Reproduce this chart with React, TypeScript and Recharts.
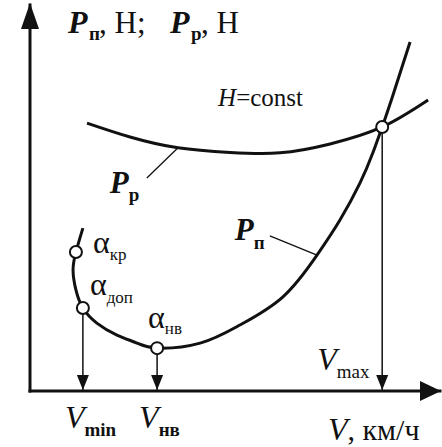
import React from 'react';
import {
  ComposedChart,
  Line,
  XAxis,
  YAxis,
  ReferenceDot,
  ReferenceLine,
  Label,
} from 'recharts';

// Required thrust P_п(V): the left branch turns back at high angles of attack
const requiredV = [12.9, 11.2, 10.5, 11.2, 12.9, 16.3, 21.2, 26.1, 31.0, 41.5, 51.2, 61.7, 70.0, 75.6, 80.5, 83.7, 85.9, 88.3, 92.7];
const requiredP = [42.2, 36.0, 31.3, 26.2, 21.5, 17.6, 14.5, 12.4, 11.1, 12.4, 17.1, 24.4, 35.2, 44.3, 53.9, 61.9, 68.4, 75.9, 90.4];

// Available thrust P_р(V) at H = const
const availableV = [13.9, 24.4, 36.1, 48.8, 61.0, 73.2, 85.9, 97.1];
const availableP = [69.4, 65.8, 63.0, 61.8, 61.7, 64.0, 68.4, 75.4];

// Characteristic points on the P_п curve (indices into the arrays above)
const CR = 1; // α_кр
const DOP = 4; // α_доп  -> V_min
const NV = 8; // α_нв   -> V_нв
const MAX = 16; // P_п = P_р -> V_max

const tickSubs = ['min', 'нв'];

const requiredData = requiredV.map((v, i) => ({ v, p: requiredP[i] }));
const availableData = availableV.map((v, i) => ({ v, p: availableP[i] }));

const INK = '#111';
const SERIF = "'Liberation Serif', 'Times New Roman', 'DejaVu Serif', serif";
const F = { fontFamily: SERIF };

const W = 442;
const H = 447;

// Text placed relative to a data point, offsets in px
const caption = (
  key: string,
  v: number,
  p: number,
  dx: number,
  dy: number,
  content: React.ReactNode,
) => (
  <ReferenceDot
    key={key}
    x={v}
    y={p}
    r={1}
    ifOverflow="visible"
    shape={(props: any) => (
      <text x={props.cx + dx} y={props.cy + dy} style={F} fill={INK}>
        {content}
      </text>
    )}
  />
);

const openDot = (key: string, v: number, p: number) => (
  <ReferenceDot
    key={key}
    x={v}
    y={p}
    r={6}
    fill="#fff"
    stroke={INK}
    strokeWidth={2}
    ifOverflow="visible"
  />
);

const dropArrow = (key: string, v: number, p: number) => [
  <ReferenceLine
    key={key + '-l'}
    segment={[
      { x: v, y: p },
      { x: v, y: 0 },
    ]}
    stroke={INK}
    strokeWidth={1.5}
    ifOverflow="visible"
  />,
  <ReferenceDot
    key={key + '-h'}
    x={v}
    y={0}
    r={1}
    ifOverflow="visible"
    shape={(props: any) => (
      <polygon
        points={`${props.cx - 6},${props.cy - 16} ${props.cx + 6},${props.cy - 16} ${props.cx},${props.cy - 1}`}
        fill={INK}
      />
    )}
  />,
];

const VTick = (props: any) => {
  const { x, y, index } = props;
  return (
    <text x={x - 18} y={y + 37} style={F} fill={INK}>
      <tspan style={F} fontStyle="italic" fontSize={32}>V</tspan>
      <tspan style={F} fontSize={19} fontWeight="bold" dy={8}>{tickSubs[index]}</tspan>
    </text>
  );
};

const AxisTitle = (props: any) => {
  const vb = props.viewBox || { x: 30, y: 391, width: 410 };
  return (
    <text x={vb.x + 298} y={vb.y + 49} style={F} fill={INK}>
      <tspan style={F} fontStyle="italic" fontSize={32}>V</tspan>
      <tspan style={F} fontSize={30}>, км/ч</tspan>
    </text>
  );
};

export default function App() {
  return (
    <div style={{ position: 'absolute', left: 0, top: 0, width: W, height: H, background: '#fff' }}>
      <ComposedChart width={W} height={H} margin={{ top: 5, right: 2, bottom: 0, left: 0 }}>
        <XAxis
          type="number"
          dataKey="v"
          domain={[0, 100]}
          ticks={[requiredV[DOP], requiredV[NV]]}
          interval={0}
          tick={<VTick />}
          tickLine={false}
          tickSize={0}
          tickMargin={0}
          height={56}
          axisLine={{ stroke: INK, strokeWidth: 3, strokeLinecap: 'square' }}
        >
          <Label content={<AxisTitle />} />
        </XAxis>
        <YAxis
          type="number"
          domain={[0, 100]}
          width={30}
          tick={false}
          tickLine={false}
          axisLine={{ stroke: INK, strokeWidth: 3, strokeLinecap: 'square' }}
        />

        {/* axis arrowheads */}
        <ReferenceDot
          x={0}
          y={100}
          r={1}
          ifOverflow="visible"
          shape={(props: any) => (
            <polygon
              points={`${props.cx},${props.cy - 2} ${props.cx - 9},${props.cy + 24} ${props.cx + 9},${props.cy + 24}`}
              fill={INK}
            />
          )}
        />
        <ReferenceDot
          x={100}
          y={0}
          r={1}
          ifOverflow="visible"
          shape={(props: any) => (
            <polygon
              points={`${props.cx + 1},${props.cy} ${props.cx - 20},${props.cy - 10} ${props.cx - 20},${props.cy + 10}`}
              fill={INK}
            />
          )}
        />

        <Line
          data={availableData}
          dataKey="p"
          type="natural"
          stroke={INK}
          strokeWidth={3}
          dot={false}
          isAnimationActive={false}
        />
        <Line
          data={requiredData}
          dataKey="p"
          type="natural"
          stroke={INK}
          strokeWidth={3}
          dot={false}
          isAnimationActive={false}
        />

        {/* leader lines to the curve labels */}
        <ReferenceLine
          segment={[
            { x: availableV[2], y: availableP[2] },
            { x: 28.5, y: 55.2 },
          ]}
          stroke={INK}
          strokeWidth={1.3}
        />
        <ReferenceLine
          segment={[
            { x: requiredV[12], y: requiredP[12] },
            { x: 58.5, y: 40.2 },
          ]}
          stroke={INK}
          strokeWidth={1.3}
        />

        {dropArrow('vmin', requiredV[DOP], requiredP[DOP])}
        {dropArrow('vnv', requiredV[NV], requiredP[NV])}
        {dropArrow('vmax', requiredV[MAX], requiredP[MAX])}

        {openDot('cr', requiredV[CR], requiredP[CR])}
        {openDot('dop', requiredV[DOP], requiredP[DOP])}
        {openDot('nv', requiredV[NV], requiredP[NV])}
        {openDot('max', requiredV[MAX], requiredP[MAX])}

        {caption(
          'ytitle',
          0,
          100,
          0,
          28,
          <>
            <tspan style={F} x={68} fontStyle="italic" fontWeight="bold" fontSize={32}>P</tspan>
            <tspan style={F} x={89} fontWeight="bold" fontSize={19} dy={7}>п</tspan>
            <tspan style={F} x={99} fontSize={31} dy={-7}>, Н;</tspan>
            <tspan style={F} x={170} fontStyle="italic" fontWeight="bold" fontSize={32}>P</tspan>
            <tspan style={F} x={191} fontWeight="bold" fontSize={19} dy={7}>р</tspan>
            <tspan style={F} x={201} fontSize={31} dy={-7}>, Н</tspan>
          </>,
        )}
        {caption(
          'hconst',
          availableV[3],
          availableP[3],
          -12,
          -46,
          <>
            <tspan style={F} fontStyle="italic" fontSize={25}>H</tspan>
            <tspan style={F} fontSize={25}>=const</tspan>
          </>,
        )}
        {caption(
          'pp',
          28.5,
          55.2,
          -37,
          15,
          <>
            <tspan style={F} fontStyle="italic" fontWeight="bold" fontSize={31}>P</tspan>
            <tspan style={F} fontWeight="bold" fontSize={19} dy={8}>р</tspan>
          </>,
        )}
        {caption(
          'pn',
          58.5,
          40.2,
          -35,
          4,
          <>
            <tspan style={F} fontStyle="italic" fontWeight="bold" fontSize={31}>P</tspan>
            <tspan style={F} fontWeight="bold" fontSize={19} dy={9}>п</tspan>
          </>,
        )}
        {caption(
          'acr',
          requiredV[CR],
          requiredP[CR],
          17,
          1,
          <>
            <tspan style={F} fontSize={32}>α</tspan>
            <tspan style={F} fontSize={17} dy={7}>кр</tspan>
          </>,
        )}
        {caption(
          'adop',
          requiredV[DOP],
          requiredP[DOP],
          7,
          -13,
          <>
            <tspan style={F} fontSize={32}>α</tspan>
            <tspan style={F} fontSize={17} dy={8}>доп</tspan>
          </>,
        )}
        {caption(
          'anv',
          requiredV[NV],
          requiredP[NV],
          -9,
          -20,
          <>
            <tspan style={F} fontSize={32}>α</tspan>
            <tspan style={F} fontSize={17} dy={6}>нв</tspan>
          </>,
        )}
        {caption(
          'vmax',
          requiredV[MAX],
          0,
          -65,
          -21,
          <>
            <tspan style={F} fontStyle="italic" fontSize={32}>V</tspan>
            <tspan style={F} fontSize={19} dy={8}>max</tspan>
          </>,
        )}
      </ComposedChart>
    </div>
  );
}
